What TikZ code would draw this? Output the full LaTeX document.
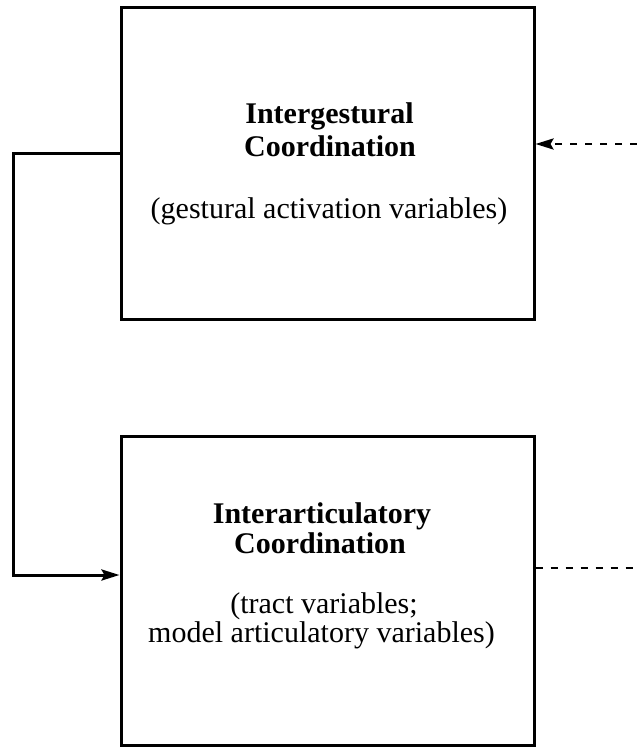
\documentclass[tikz,border=0pt]{standalone}
\usepackage{fontspec}
\setmainfont{Liberation Serif}
\usetikzlibrary{arrows.meta}
\tikzset{
  box/.style={draw, line width=3pt, rectangle, inner sep=0pt},
  txt/.style={anchor=base, inner sep=0pt, font=\fontsize{30}{33}\selectfont},
  btxt/.style={txt, font=\fontsize{30}{33}\selectfont\bfseries},
  conn/.style={line width=3pt},
  tip/.style={-{Stealth[length=18pt,width=11pt,inset=3pt]}},
  dashline/.style={line width=2.8pt, dash pattern=on 7pt off 8pt}
}
\begin{document}
\begin{tikzpicture}[x=1pt,y=1pt]
\useasboundingbox (0,0) rectangle (637,-747);
\node[box, minimum width=413pt, minimum height=312pt] (top) at (327.5,-163) {};
\node[box, minimum width=413pt, minimum height=309pt] (bot) at (327.5,-590.5) {};
\node[btxt] (t1) at (329.5,-123) {Intergestural};
\node[btxt] (t2) at (330,-156) {Coordination};
\node[txt] (t3) at (329,-218) {(gestural activation variables)};
\node[btxt] (b1) at (322,-523) {Interarticulatory};
\node[btxt] (b2) at (320,-553) {Coordination};
\node[txt] (b3) at (324,-613) {(tract variables;};
\node[txt] (b4) at (321.5,-642) {model articulatory variables)};
\coordinate (lc) at (13,-153);
\coordinate (rin) at (637,-144);
\coordinate (rout) at (637,-568);
\draw[conn, tip] ([yshift=10pt]top.west) -- (lc) |- ([yshift=15.5pt]bot.west);
\draw[dashline, tip] (rin) -- ([yshift=19pt]top.east);
\draw[dashline] ([yshift=22.5pt]bot.east) -- (rout);
\end{tikzpicture}
\end{document}
